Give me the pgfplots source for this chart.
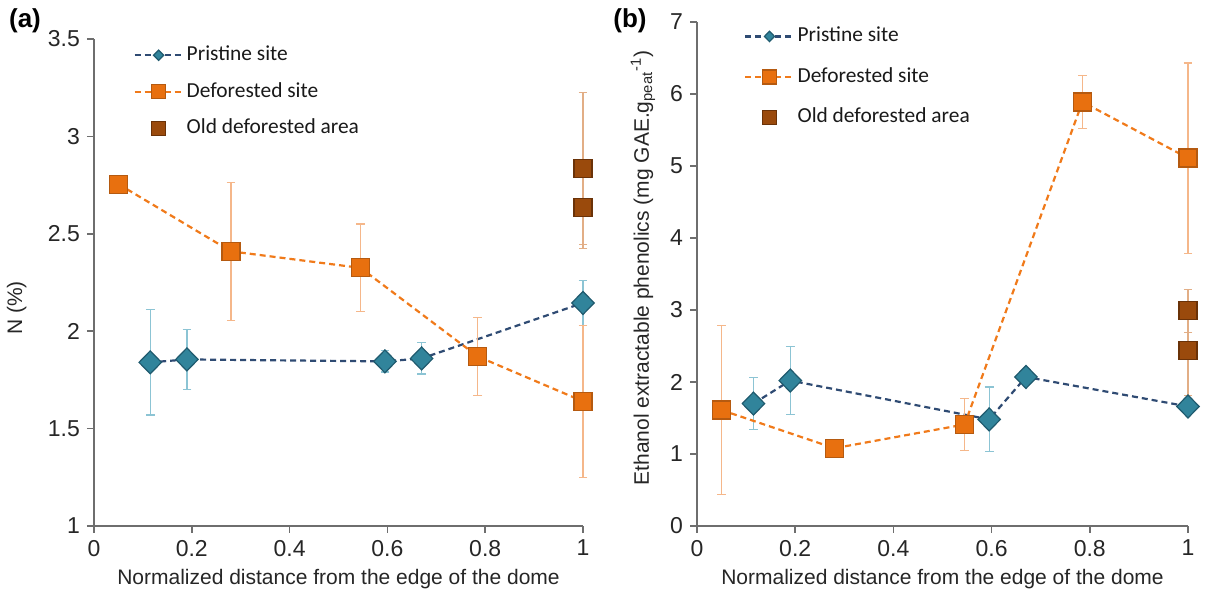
\documentclass[border=0pt]{standalone}
\usepackage{fontspec}
\setmainfont{Liberation Sans}
\newfontfamily\legfont{Carlito}
\usepackage{pgfplots}
\pgfplotsset{compat=1.18}

\definecolor{prFill}{HTML}{31849B}
\definecolor{prEdge}{HTML}{1F5A6E}
\definecolor{prLine}{HTML}{2F4B73}
\definecolor{prErr}{HTML}{8CC4D4}
\definecolor{dfFill}{HTML}{E8700F}
\definecolor{dfEdge}{HTML}{B55A10}
\definecolor{dfLine}{HTML}{F07A1A}
\definecolor{dfErr}{HTML}{F5B78A}
\definecolor{odErr}{HTML}{E2AE86}
\definecolor{odFill}{HTML}{9A4A0C}
\definecolor{odEdge}{HTML}{6A3208}
\definecolor{axc}{HTML}{6E6E6E}

\pgfplotsset{
 panel/.style={
  scale only axis, clip=false,
  axis x line*=bottom, axis y line*=left,
  axis line style={axc, line width=0.75pt},
  tick style={axc, line width=0.75pt},
  tick align=outside, major tick length=3.5pt,
  xmin=0, xmax=1, xtick={0,0.2,0.4,0.6,0.8,1},
  ticklabel style={font=\fontsize{11.5}{13}\selectfont, text=black!85},
  /pgf/number format/assume math mode=true,
  label style={font=\fontsize{10.5}{12}\selectfont, text=black!85},
  legend style={draw=none, fill=none, inner sep=0pt, font=\legfont\fontsize{10.7}{12}\selectfont,
    anchor=north west, nodes={inner sep=0pt, text height=8pt, text depth=2.5pt, anchor=west, text=black!90}, column sep=1.5pt},
  legend cell align=left,
 },
 pr/.style={prLine, line width=1.1pt, dash pattern=on 3pt off 2pt,
  mark=diamond*, mark size=5.75pt,
  mark options={solid, fill=prFill, draw=prEdge, line width=0.6pt, xscale=1.3},
  legend image code/.code={\draw[mark size=2.6pt, mark repeat=2, mark phase=2] plot coordinates {(0pt,0pt) (12pt,0pt) (24pt,0pt)};},
  error bars/.cd, y dir=both, y explicit,
  error bar style={prErr, line width=0.6pt, solid},
  error mark options={prErr, line width=0.6pt, mark size=2.2pt, rotate=90}},
 df/.style={dfLine, line width=1.1pt, dash pattern=on 3pt off 2pt,
  mark=square*, mark size=4.5pt,
  mark options={solid, fill=dfFill, draw=dfEdge, line width=0.6pt},
  legend image code/.code={\draw[mark size=3.5pt, mark repeat=2, mark phase=2] plot coordinates {(0pt,0pt) (12pt,0pt) (24pt,0pt)};},
  error bars/.cd, y dir=both, y explicit,
  error bar style={dfErr, line width=0.6pt, solid},
  error mark options={dfErr, line width=0.6pt, mark size=2.2pt, rotate=90}},
 od/.style={only marks,
  mark=square*, mark size=4.5pt,
  mark options={solid, fill=odFill, draw=odEdge, line width=0.6pt},
  legend image code/.code={\draw[mark size=3.5pt] plot[only marks] coordinates {(12pt,0pt)};},
  error bars/.cd, y dir=both, y explicit,
  error bar style={odErr, line width=0.6pt, solid},
  error mark options={odErr, line width=0.6pt, mark size=2.2pt, rotate=90}},
}

\begin{document}
\begin{tikzpicture}
\useasboundingbox (0,0) rectangle (603.5pt,296.5pt);

% ---------------- panel (a)
\begin{axis}[panel,
  at={(47pt,33.5pt)}, anchor=south west,
  width=244.5pt, height=243.5pt,
  ymin=1, ymax=3.5, ytick={1,1.5,2,2.5,3,3.5},
  xlabel={Normalized distance from the edge of the dome},
  ylabel={N (\%)},
  xlabel style={at={(axis description cs:0.5,-0.109)}, anchor=center},
  ylabel style={at={(axis description cs:-0.158,0.448)}, anchor=center},
  legend style={at={(axis description cs:0.080,0.989)}, row sep=7.75pt},
]
\addplot[pr] table[x=x, y=y, y error=e] {
x y e
0.115 1.840 0.270
0.190 1.855 0.155
0.595 1.845 0.055
0.670 1.860 0.080
1.000 2.145 0.115
};
\addlegendentry{Pristine site}
\addplot[df] table[x=x, y=y, y error=e] {
x y e
0.050 2.755 0.000
0.280 2.410 0.355
0.545 2.325 0.225
0.785 1.870 0.200
1.000 1.640 0.390
};
\addlegendentry{Deforested site}
\addplot[od] table[x=x, y=y, y error=e] {
x y e
1.000 2.835 0.390
1.000 2.635 0.210
};
\addlegendentry{Old deforested area}
\end{axis}

% ---------------- panel (b)
\begin{axis}[panel,
  at={(348.5pt,33.5pt)}, anchor=south west,
  width=245.5pt, height=252pt,
  ymin=0, ymax=7, ytick={0,1,2,3,4,5,6,7},
  xlabel={Normalized distance from the edge of the dome},
  ylabel={Ethanol extractable phenolics (mg GAE.g\textsubscript{peat}\textsuperscript{-1})},
  xlabel style={at={(axis description cs:0.5,-0.105)}, anchor=center},
  ylabel style={at={(axis description cs:-0.110,0.512)}, anchor=center},
  legend style={at={(axis description cs:0.0957,0.993)}, row sep=9.75pt},
]
\addplot[pr] table[x=x, y=y, y error=e] {
x y e
0.115 1.700 0.365
0.190 2.020 0.470
0.595 1.480 0.450
0.670 2.070 0.000
1.000 1.660 0.000
};
\addlegendentry{Pristine site}
\addplot[df] table[x=x, y=y, y error=e] {
x y e
0.050 1.610 1.170
0.280 1.080 0.000
0.545 1.410 0.365
0.785 5.890 0.370
1.000 5.110 1.320
};
\addlegendentry{Deforested site}
\addplot[od] table[x=x, y=y, y error=e] {
x y e
1.000 2.990 0.300
1.000 2.440 0.630
};
\addlegendentry{Old deforested area}
\end{axis}

\node[font=\bfseries\fontsize{13}{15}\selectfont] at (12.5pt,286pt) {(a)};
\node[font=\bfseries\fontsize{13}{15}\selectfont] at (315pt,286pt) {(b)};
\end{tikzpicture}
\end{document}
